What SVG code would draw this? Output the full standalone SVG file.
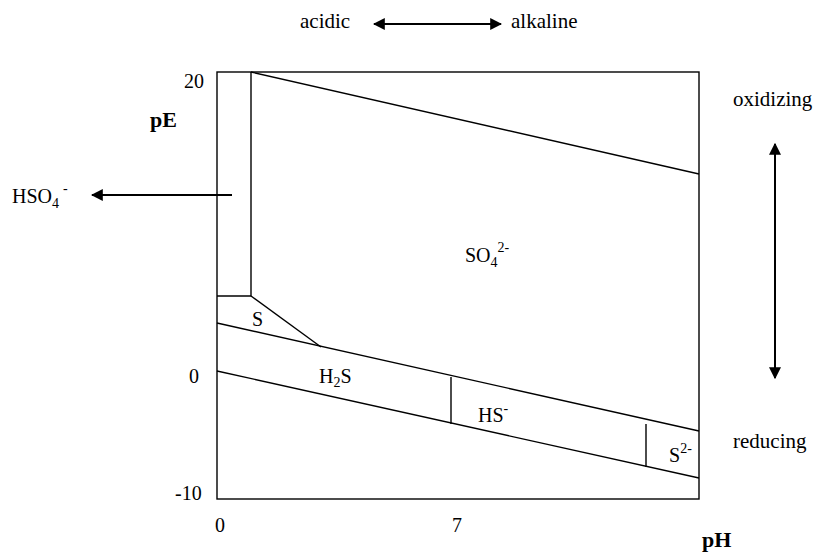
<svg xmlns="http://www.w3.org/2000/svg" width="819" height="555" viewBox="0 0 819 555">
<defs>
<style>
text{font-family:"Liberation Serif","Times New Roman",serif;fill:#000;}
.t{font-size:20px;}
.w{font-size:21px;}
.b{font-size:22px;font-weight:bold;}
.ln{stroke:#000;stroke-width:1.4;fill:none;}
.ar{stroke:#000;stroke-width:2;fill:none;}
</style>
<marker id="ah" viewBox="0 0 10 10" refX="9" refY="5" markerWidth="6" markerHeight="6" markerUnits="strokeWidth" orient="auto-start-reverse">
<path d="M0,0 L10,5 L0,10 z" fill="#000"/>
</marker>
</defs>
<rect width="819" height="555" fill="#fff"/>
<g id="frame">
<rect x="217" y="72" width="482" height="427" class="ln"/>
</g>
<g id="connectors">
<line x1="251" y1="72" x2="699" y2="174" class="ln"/>
<line x1="251" y1="72" x2="251" y2="296" class="ln"/>
<line x1="217" y1="296" x2="251" y2="296" class="ln"/>
<line x1="251" y1="296" x2="321" y2="347" class="ln"/>
<line x1="217" y1="323" x2="699" y2="431" class="ln"/>
<line x1="217" y1="371" x2="699" y2="478" class="ln"/>
<line x1="451" y1="377" x2="451" y2="424" class="ln"/>
<line x1="646" y1="424" x2="646" y2="467" class="ln"/>
<line x1="232" y1="195" x2="92" y2="195" class="ar" marker-end="url(#ah)"/>
<line x1="374" y1="24" x2="501" y2="24" class="ar" marker-start="url(#ah)" marker-end="url(#ah)"/>
<line x1="775" y1="144" x2="775" y2="378" class="ar" marker-start="url(#ah)" marker-end="url(#ah)"/>
</g>
<g id="labels-top">
<text x="300" y="28" class="w">acidic</text>
<text x="511" y="28" class="w">alkaline</text>
</g>
<g id="labels-right">
<text x="733" y="106" class="w">oxidizing</text>
<text x="733" y="448" class="w">reducing</text>
</g>
<g id="axis">
<text x="184" y="88" class="t">20</text>
<text x="150" y="127" class="b">pE</text>
<text x="189" y="383" class="t">0</text>
<text x="175" y="500" class="t">-10</text>
<text x="215" y="532" class="t">0</text>
<text x="452" y="532" class="t">7</text>
<text x="702" y="547" class="b">pH</text>
</g>
<g id="node-HSO4">
<text x="12" y="203" class="t">HSO<tspan font-size="14" dy="5">4</tspan><tspan font-size="14" dx="4" dy="-15">-</tspan></text>
</g>
<g id="node-SO4">
<text x="465" y="262" class="t">SO<tspan font-size="14" dy="5">4</tspan><tspan font-size="14" dy="-15">2-</tspan></text>
</g>
<g id="node-S">
<text x="252" y="326" class="t">S</text>
</g>
<g id="node-H2S">
<text x="319" y="383" class="t">H<tspan font-size="14" dy="4">2</tspan><tspan dy="-4">S</tspan></text>
</g>
<g id="node-HS">
<text x="478" y="422" class="t">HS<tspan font-size="14" dy="-9">-</tspan></text>
</g>
<g id="node-S2">
<text x="669" y="462" class="t">S<tspan font-size="14" dy="-9">2-</tspan></text>
</g>
</svg>
